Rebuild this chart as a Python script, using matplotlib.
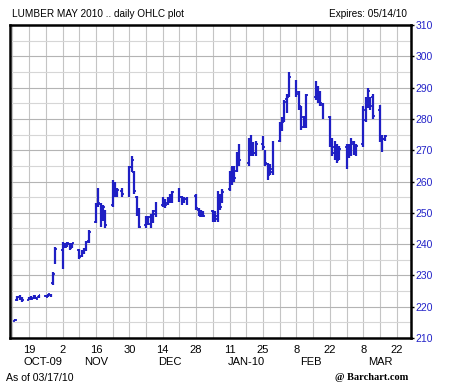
import numpy as np
import pandas as pd
import matplotlib
matplotlib.use("Agg")
import matplotlib.pyplot as plt
import matplotlib.dates as mdates

FONT = ["Liberation Sans", "DejaVu Sans"]
BLUE = "#1f1fc4"

# trading days Oct 13 2009 .. Mar 17 2010 (exchange holidays left out)
holidays = ["2009-11-26", "2009-12-25", "2010-01-01", "2010-01-18", "2010-02-15"]
dates = pd.bdate_range("2009-10-13", "2010-03-17")
dates = dates[~dates.isin(pd.to_datetime(holidays))]

# daily high / low / open / close
high = [216.0, 223.5, 223.8, 223.2, 223.0, 223.3, 223.6, 223.2, 223.8, 223.8, 224.2, 224.0, 231.0, 239.0,
        240.7, 240.5, 240.8, 240.2, 240.5, 238.5, 238.0, 238.8, 241.0, 244.5,
        253.0, 258.0, 253.0, 252.5, 251.0, 260.5, 260.0, 258.0, 258.0, 265.0,
        268.3, 263.5, 255.5, 251.5, 249.0, 249.0, 249.5, 251.0, 253.5,
        255.0, 254.5, 255.0, 256.0, 257.0, 258.0, 255.5, 255.0, 255.0, 256.0, 251.5, 251.0, 250.5,
        251.0, 250.5, 257.0, 256.0, 257.5, 263.5, 265.0, 265.0, 269.5, 272.0,
        274.0, 275.0, 272.5, 273.0, 274.5, 270.0, 266.0, 265.5, 273.0,
        279.0, 280.5, 286.0, 288.0, 295.0, 292.5, 289.0, 284.0, 281.0, 288.0,
        292.0, 290.5, 289.0, 285.0, 281.0, 274.0, 273.0, 272.0, 271.5,
        272.0, 272.0, 274.0, 273.0, 272.0, 284.0, 287.0, 290.0, 287.0, 288.0, 284.5, 275.0, 275.0]
low = [215.3, 221.8, 222.2, 221.6, 222.0, 222.3, 222.6, 222.4, 222.8, 223.0, 223.2, 223.2, 227.0, 233.5,
       232.0, 238.6, 239.0, 238.2, 238.6, 235.2, 236.0, 236.8, 237.8, 240.5,
       246.7, 252.0, 245.5, 247.5, 245.0, 252.0, 255.0, 255.0, 255.0, 255.0,
       263.0, 256.0, 249.0, 245.0, 245.0, 246.0, 245.0, 246.7, 248.7,
       252.0, 251.5, 252.5, 253.0, 253.0, 253.5, 252.5, 253.0, 252.5, 251.0, 249.0, 248.5, 248.5,
       247.0, 247.0, 247.0, 251.0, 253.0, 257.0, 259.0, 260.0, 263.0, 265.0,
       265.0, 268.0, 268.0, 268.0, 270.0, 265.0, 260.5, 262.0, 262.0,
       272.5, 276.0, 279.0, 282.0, 287.0, 287.0, 283.0, 276.5, 277.0, 277.0,
       286.0, 285.0, 284.0, 280.0, 271.0, 268.0, 267.0, 266.0, 267.0,
       264.0, 267.5, 268.0, 268.5, 268.0, 271.0, 279.0, 283.5, 283.0, 280.0, 272.5, 269.5, 273.0]
opens = [215.5, 222.0, 223.0, 222.4, 222.2, 222.6, 222.8, 223.0, 223.0, 223.4, 223.4, 223.8, 227.5, 234.0,
         238.0, 239.5, 239.4, 240.0, 238.8, 238.0, 236.2, 237.4, 238.2, 241.0,
         247.0, 252.5, 252.8, 248.0, 250.5, 252.5, 259.5, 255.5, 257.0, 256.0,
         264.5, 263.0, 255.0, 251.0, 246.0, 248.5, 248.5, 247.0, 249.5,
         252.5, 254.0, 253.0, 254.5, 254.0, 256.5, 255.0, 253.5, 254.5, 255.5, 251.0, 249.0, 250.0,
         250.5, 249.5, 248.0, 255.0, 253.5, 257.5, 262.5, 264.0, 263.5, 268.5,
         266.0, 273.0, 271.5, 269.0, 272.0, 269.5, 265.5, 262.5, 263.0,
         273.0, 278.5, 279.5, 286.5, 287.5, 291.5, 288.5, 283.5, 280.5, 278.0,
         287.0, 289.5, 288.0, 284.5, 280.5, 273.0, 271.0, 270.0, 268.0,
         271.0, 268.0, 268.5, 272.0, 271.0, 272.0, 279.5, 284.0, 286.0, 287.0, 283.0, 274.0, 273.5]
close = [215.8, 223.2, 222.5, 222.0, 222.8, 222.5, 223.4, 222.6, 223.6, 223.2, 224.0, 223.6, 230.5, 238.5,
         240.0, 239.0, 240.4, 238.6, 240.2, 235.8, 237.5, 238.4, 240.6, 244.0,
         252.5, 253.0, 246.5, 251.8, 246.0, 259.5, 255.8, 257.2, 256.0, 264.5,
         267.0, 257.0, 250.0, 245.5, 248.2, 246.5, 247.0, 250.5, 252.5,
         254.0, 252.5, 254.5, 254.0, 256.5, 255.0, 253.5, 254.5, 253.0, 251.5, 249.5, 250.0, 249.0,
         247.5, 249.0, 256.0, 252.0, 256.5, 262.5, 264.0, 261.0, 268.5, 267.0,
         273.0, 270.5, 269.0, 272.0, 271.0, 266.0, 262.0, 264.0, 272.5,
         278.0, 279.0, 285.5, 287.0, 293.5, 288.0, 284.0, 277.5, 280.0, 287.5,
         290.5, 286.0, 285.0, 281.0, 272.0, 269.0, 270.5, 267.0, 270.5,
         268.0, 271.0, 272.5, 269.5, 271.5, 283.0, 285.5, 289.0, 284.0, 281.0, 273.0, 273.5, 274.5]

day_ticks = ["2009-10-19", "2009-11-02", "2009-11-16", "2009-11-30", "2009-12-14", "2009-12-28",
             "2010-01-11", "2010-01-25", "2010-02-08", "2010-02-22", "2010-03-08", "2010-03-22"]
day_labels = ["19", "2", "16", "30", "14", "28", "11", "25", "8", "22", "8", "22"]
month_pos = ["2009-10-25", "2009-11-16", "2009-12-17", "2010-01-18", "2010-02-14", "2010-03-15"]
month_labels = ["OCT-09", "NOV", "DEC", "JAN-10", "FEB", "MAR"]

fig = plt.figure(figsize=(4.54, 3.90), dpi=100)
ax = fig.add_axes([10 / 454, 52 / 390, 401 / 454, 313 / 390])

x = mdates.date2num(dates)
half = 0.75
ax.vlines(x, low, high, color=BLUE, lw=1.6, zorder=3)
ax.hlines(opens, x - half, x, color=BLUE, lw=1.3, zorder=3)
ax.hlines(close, x, x + half, color=BLUE, lw=1.3, zorder=3)

ax.set_xlim(mdates.datestr2num("2009-10-11"), mdates.datestr2num("2010-03-28"))
ax.set_ylim(210, 310)

# weekly vertical grid, 5-point horizontal grid
weeks = mdates.date2num(pd.date_range("2009-10-12", "2010-03-22", freq="7D"))
for w in weeks:
    ax.axvline(w, color="#c4c4c4", lw=0.8, zorder=1)
for v in range(215, 310, 5):
    ax.axhline(v, color="#b4b4b4" if v % 10 == 0 else "#d6d6d6", lw=0.8, zorder=1)

for s in ax.spines.values():
    s.set_linewidth(1.8)
    s.set_color("black")

ax.yaxis.tick_right()
ax.set_yticks(range(210, 311, 10))
ax.tick_params(axis="y", direction="out", length=2, width=1, pad=1, labelcolor="#2323c8", labelsize=7.5)
for t in ax.get_yticklabels():
    t.set_family(FONT)
ax.set_xticks([])

for d, lab in zip(day_ticks, day_labels):
    ax.text(mdates.datestr2num(d), -0.038, lab, transform=ax.get_xaxis_transform(),
            ha="center", va="center", fontsize=8, family=FONT)
for d, lab in zip(month_pos, month_labels):
    ax.text(mdates.datestr2num(d), -0.077, lab, transform=ax.get_xaxis_transform(),
            ha="center", va="center", fontsize=8, family=FONT)

fig.text(12 / 454, 1 - 14 / 390, "LUMBER MAY 2010 .. daily OHLC plot", fontsize=7.2, family=FONT, va="center")
fig.text(407 / 454, 1 - 14 / 390, "Expires: 05/14/10", fontsize=7.2, family=FONT, va="center", ha="right")
fig.text(6 / 454, 1 - 378 / 390, "As of 03/17/10", fontsize=7.6, family=FONT, va="center")
fig.text(408 / 454, 1 - 378 / 390, "@ Barchart.com", fontsize=7.5, family="Liberation Serif",
         weight="bold", va="center", ha="right")

fig.savefig("out.png", dpi=100)
